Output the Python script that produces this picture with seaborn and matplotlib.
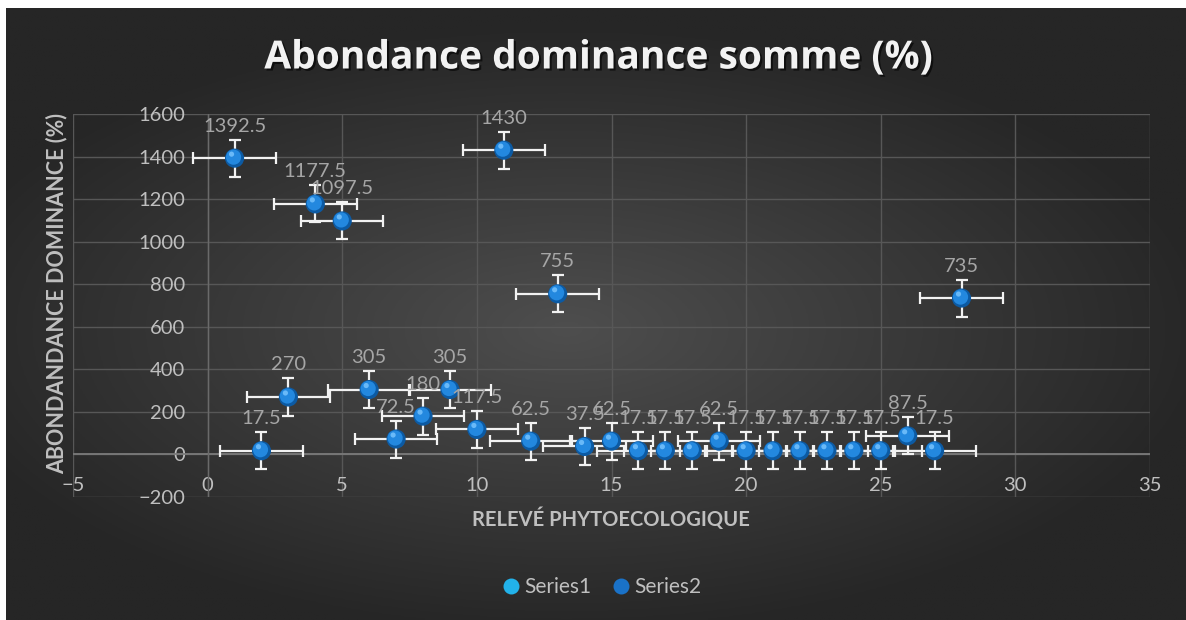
import numpy as np
import matplotlib
matplotlib.use("Agg")
import matplotlib.pyplot as plt
import matplotlib.transforms as mtransforms
import matplotlib.patheffects as pe
from matplotlib.lines import Line2D
import seaborn as sns
import pandas as pd

# values
releve = list(range(1, 29))
abondance = [1392.5, 17.5, 270, 1177.5, 1097.5, 305, 72.5, 180, 305, 117.5,
             1430, 62.5, 755, 37.5, 62.5, 17.5, 17.5, 17.5, 62.5, 17.5,
             17.5, 17.5, 17.5, 17.5, 17.5, 87.5, 17.5, 735]
x_err = 1.53   # standard error bars (constant)
y_err = 87
x_ticks = [-5, 0, 5, 10, 15, 20, 25, 30, 35]
y_ticks = [-200, 0, 200, 400, 600, 800, 1000, 1200, 1400, 1600]
series_names = ["Series1", "Series2"]

df = pd.DataFrame({"releve": releve, "abondance": abondance})

sns.set_theme(style="dark")
plt.rcParams['font.family'] = ['Lato', 'DejaVu Sans']

W, H = 1186, 620
fig = plt.figure(figsize=(W / 100, H / 100), dpi=100)
fig.patch.set_facecolor("white")

# radial dark gradient background of the chart area
bg = fig.add_axes([6 / W, 0, 1 - 6 / W, 1 - 8 / H])
gx, gy = np.meshgrid(np.linspace(-1, 1, 400), np.linspace(-1, 1, 220))
r = np.sqrt(((gx + 0.05) / 1.1) ** 2 + ((gy + 0.05) / 1.0) ** 2)
r = np.clip(r, 0, 1)
inner, outer = np.array([0x4e, 0x4e, 0x4e]) / 255, np.array([0x26, 0x26, 0x26]) / 255
img = inner[None, None, :] * (1 - r[..., None]) + outer[None, None, :] * r[..., None]
bg.imshow(img, aspect="auto", extent=[0, 1, 0, 1], origin="lower")
bg.set_axis_off()

ax = fig.add_axes([73 / W, (H - 497) / H, (1150 - 73) / W, (497 - 114) / H])
ax.set_facecolor("none")

ax.set_xlim(-5, 35)
ax.set_ylim(-200, 1600)
ax.set_xticks(x_ticks)
ax.set_yticks(y_ticks)
ax.grid(True, color="#575757", linewidth=1.0)
for s in ax.spines.values():
    s.set_visible(False)
ax.spines['bottom'].set_position(('data', 0))
ax.spines['left'].set_position(('data', 0))
ax.axhline(0, color="#7a7a7a", linewidth=1.3, zorder=1)
ax.axvline(0, color="#6a6a6a", linewidth=1.0, zorder=1)
ax.tick_params(axis='both', length=0, labelsize=14.5, labelcolor="#bfbfbf")
ax.tick_params(axis='x', pad=16)
ax.tick_params(axis='y', pad=16)

# error bars
ax.errorbar(df["releve"], df["abondance"], xerr=x_err, yerr=y_err, fmt="none",
            ecolor="#f2f2f2", elinewidth=1.6, capsize=4, capthick=1.6, zorder=3)

# sphere-like markers
sns.scatterplot(data=df, x="releve", y="abondance", ax=ax, s=190,
                color="#0c5aa3", edgecolor="none", zorder=4, legend=False)
shift = mtransforms.offset_copy(ax.transData, fig=fig, x=-1, y=1, units='dots')
ax.scatter(df["releve"], df["abondance"], s=120, color="#2388df",
           edgecolor="none", zorder=5, transform=shift)
shift2 = mtransforms.offset_copy(ax.transData, fig=fig, x=-3, y=4, units='dots')
ax.scatter(df["releve"], df["abondance"], s=14, color="#7cc6ff",
           edgecolor="none", zorder=6, alpha=0.8, transform=shift2)

# data labels above each point
for xv, yv in zip(releve, abondance):
    ax.annotate(f"{yv:g}", (xv, yv), xytext=(0, 32), textcoords="offset pixels",
                ha="center", va="center", fontsize=14.5, color="#a6a6a6", zorder=7)

ax.set_xlabel("")
ax.set_ylabel("")

fig.text(57 / W, 1 - 294 / H, "ABONDANDANCE DOMINANCE (%)", rotation=90,
         ha="center", va="center", fontsize=15.5, fontweight="bold", color="#bfbfbf")
fig.text(611 / W, 1 - 519 / H, "RELEVÉ PHYTOECOLOGIQUE",
         ha="center", va="center", fontsize=14.5, fontweight="bold", color="#bfbfbf")

fig.text(598 / W, 1 - 58 / H, "Abondance dominance somme (%)",
         ha="center", va="center", fontsize=28, fontweight="bold", color="#f2f2f2",
         family=["Open Sans", "DejaVu Sans"],
         path_effects=[pe.withSimplePatchShadow(offset=(1.5, -1.5), shadow_rgbFace="black", alpha=0.6)])

handles = [Line2D([], [], marker="o", linestyle="none", markersize=11.5,
                  markerfacecolor="#22b2ea", markeredgecolor="none"),
           Line2D([], [], marker="o", linestyle="none", markersize=11.5,
                  markerfacecolor="#1a72c8", markeredgecolor="none")]
leg = fig.legend(handles, series_names, loc="center", bbox_to_anchor=(602 / W, 1 - 587 / H),
                 ncol=2, frameon=False, fontsize=15, handlelength=0.8,
                 handletextpad=0.25, columnspacing=1.0)
for t in leg.get_texts():
    t.set_color("#bfbfbf")

fig.savefig("out.png", dpi=100)
